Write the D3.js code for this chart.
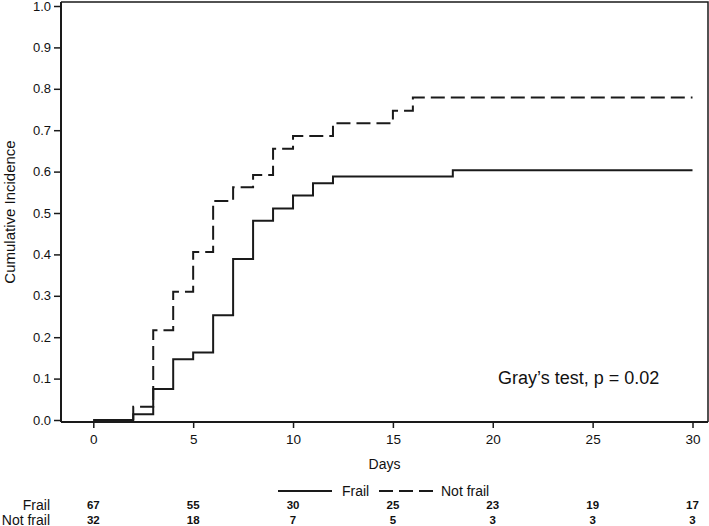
<!DOCTYPE html>
<html>
<head>
<meta charset="utf-8">
<script src="https://cdn.jsdelivr.net/npm/d3@7"></script>
<style>
  html, body { margin: 0; padding: 0; background: #fff; }
  svg { display: block; }
  text { font-family: "Liberation Sans", Arial, sans-serif; fill: #111; }
</style>
</head>
<body>
<svg id="chart" width="709" height="526"></svg>
<script>
// ---- data ----
const frailTimes = [0, 2, 3, 4, 5, 6, 7, 8, 9, 10, 11, 12, 18, 30];
const frailCI    = [0, 0.014, 0.075, 0.147, 0.163, 0.253, 0.389, 0.481, 0.511, 0.542, 0.572, 0.588, 0.603, 0.603];
const notFrailTimes = [0, 2, 3, 4, 5, 6, 7, 8, 9, 10, 12, 15, 16, 30];
const notFrailCI    = [0, 0.032, 0.217, 0.310, 0.406, 0.529, 0.562, 0.592, 0.655, 0.686, 0.717, 0.747, 0.779, 0.779];
const xTicks = [0, 5, 10, 15, 20, 25, 30];
const yTicks = [0, 0.1, 0.2, 0.3, 0.4, 0.5, 0.6, 0.7, 0.8, 0.9, 1.0];
const riskGroups = ["Frail", "Not frail"];
const riskFrail = [67, 55, 30, 25, 23, 19, 17];
const riskNotFrail = [32, 18, 7, 5, 3, 3, 3];
const testLabel = "Gray\u2019s test, p = 0.02";

// ---- layout ----
const svg = d3.select("#chart");
const frame = {left: 61, right: 708, top: 2, bottom: 422};
const x = d3.scaleLinear().domain([0, 30]).range([93.3, 692.5]);
const y = d3.scaleLinear().domain([0, 1]).range([420, 6]);
const ink = "#1a1a1a";
const font = "'Liberation Sans', Arial, sans-serif";

// frame (top & right borders)
svg.append("path")
  .attr("d", `M${frame.left},${frame.top}H${frame.right}V${frame.bottom}`)
  .attr("fill", "none").attr("stroke", ink).attr("stroke-width", 1.5);

// y axis
const yAxis = svg.append("g").attr("transform", `translate(${frame.left},0)`)
  .call(d3.axisLeft(y).tickValues(yTicks).tickFormat(d3.format(".1f")).tickSize(7).tickPadding(3));
yAxis.select(".domain").attr("d", `M0,${frame.top}V${frame.bottom}`).attr("stroke", ink).attr("stroke-width", 2);
yAxis.selectAll(".tick line").attr("stroke", ink).attr("stroke-width", 1.5);
yAxis.selectAll("text").attr("font-size", 13).attr("fill", ink).style("font-family", font);

// x axis
const xAxis = svg.append("g").attr("transform", `translate(0,${frame.bottom})`)
  .call(d3.axisBottom(x).tickValues(xTicks).tickFormat(d3.format("d")).tickSize(6).tickPadding(6));
xAxis.select(".domain").attr("d", `M${frame.left},0H${frame.right}`).attr("stroke", ink).attr("stroke-width", 2);
xAxis.selectAll(".tick line").attr("stroke", ink).attr("stroke-width", 1.5);
xAxis.selectAll("text").attr("font-size", 13.5).attr("fill", ink).style("font-family", font);

// axis titles
svg.append("text").attr("x", (frame.left + frame.right) / 2).attr("y", 469)
  .attr("text-anchor", "middle").attr("font-size", 14).text("Days");
svg.append("text").attr("transform", `translate(15,212) rotate(-90)`)
  .attr("text-anchor", "middle").attr("font-size", 15).text("Cumulative Incidence");

// curves
const line = d3.line().x(d => x(d[0])).y(d => y(d[1])).curve(d3.curveStepAfter);
const frailPts = frailTimes.map((t, i) => [t, frailCI[i]]);
const notFrailPts = notFrailTimes.map((t, i) => [t, notFrailCI[i]]);

svg.append("path").datum(frailPts).attr("d", line)
  .attr("fill", "none").attr("stroke", ink).attr("stroke-width", 2);
svg.append("path").datum(notFrailPts).attr("d", line)
  .attr("fill", "none").attr("stroke", ink).attr("stroke-width", 2)
  .attr("stroke-dasharray", "14,6");

// test annotation
svg.append("text").attr("x", 498).attr("y", 384).attr("font-size", 18).text(testLabel);

// legend
const lg = svg.append("g");
lg.append("line").attr("x1", 278).attr("x2", 332).attr("y1", 491).attr("y2", 491)
  .attr("stroke", ink).attr("stroke-width", 2);
lg.append("text").attr("x", 342).attr("y", 496).attr("font-size", 14).text(riskGroups[0]);
lg.append("line").attr("x1", 379).attr("x2", 433).attr("y1", 491).attr("y2", 491)
  .attr("stroke", ink).attr("stroke-width", 2).attr("stroke-dasharray", "14,6");
lg.append("text").attr("x", 441).attr("y", 496).attr("font-size", 14).text(riskGroups[1]);

// risk table
const rows = [riskFrail, riskNotFrail];
const rowY = [509.5, 524.5];
rows.forEach((vals, r) => {
  svg.append("text").attr("x", 50).attr("y", rowY[r]).attr("text-anchor", "end")
    .attr("font-size", 14).text(riskGroups[r]);
  svg.selectAll(null).data(vals).enter().append("text")
    .attr("x", (d, i) => x(xTicks[i])).attr("y", rowY[r] - 0.5)
    .attr("text-anchor", "middle").attr("font-size", 11.5).attr("font-weight", "bold")
    .text(d => d);
});
</script>
</body>
</html>
